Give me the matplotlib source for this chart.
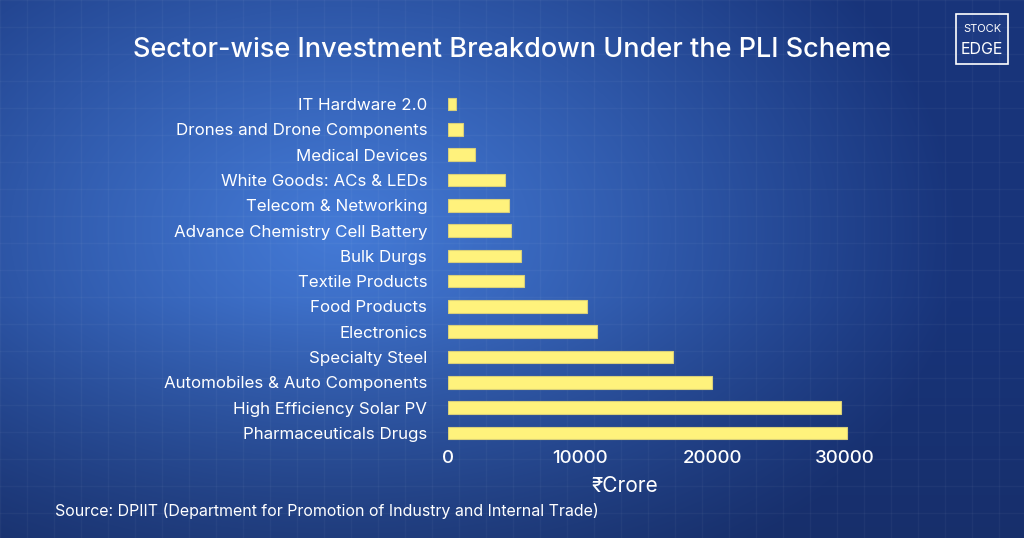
import numpy as np
import matplotlib
matplotlib.use("Agg")
from matplotlib import pyplot as plt
from matplotlib.patches import Rectangle

plt.rcParams['font.family'] = ['Inter', 'DejaVu Sans']

# data, bottom to top
sectors = ["Pharmaceuticals Drugs", "High Efficiency Solar PV", "Automobiles & Auto Components",
           "Specialty Steel", "Electronics", "Food Products", "Textile Products", "Bulk Durgs",
           "Advance Chemistry Cell Battery", "Telecom & Networking", "White Goods: ACs & LEDs",
           "Medical Devices", "Drones and Drone Components", "IT Hardware 2.0"]
investment = [30150, 29700, 19930, 17000, 11260, 10480, 5720, 5500,
              4740, 4610, 4290, 2020, 1160, 600]
xticks = [0, 10000, 20000, 30000]

W, H = 1024, 538
fig = plt.figure(figsize=(W / 100, H / 100), dpi=100)

# background gradient
bg = fig.add_axes([0, 0, 1, 1])
yy, xx = np.mgrid[0:H, 0:W]
r = np.sqrt(((xx - 340) / 620.0) ** 2 + ((yy - 230) / 420.0) ** 2)
r = np.clip(r, 0, 1)
light = np.array([68, 122, 214]) / 255.0
dark = np.array([24, 52, 122]) / 255.0
t = r[..., None] ** 1.1
img = light * (1 - t) + dark * t
vert = np.clip((yy - 300) / 238.0, 0, 1)[..., None]
img = img * (1 - 0.35 * vert) + np.array([22, 38, 80]) / 255.0 * 0.35 * vert
bg.imshow(img, extent=(0, W, H, 0), aspect='auto')
for gx in range(0, W, 27):
    bg.axvline(gx, color='white', alpha=0.035, lw=1)
for gy in range(0, H, 27):
    bg.axhline(gy, color='white', alpha=0.035, lw=1)
bg.set_xlim(0, W)
bg.set_ylim(H, 0)
bg.axis('off')

# logo
bg.add_patch(Rectangle((956, 14), 52, 50, facecolor='#1d3a82', edgecolor='white', lw=1.2))
bg.text(982, 29, "STOCK", color='white', fontsize=8, ha='center', va='center')
bg.text(982, 49, "EDGE", color='white', fontsize=11.5, ha='center', va='center')

# bars
ax = fig.add_axes([448 / W, 1 - 445.6 / H, 410 / W, 0.6583])
ax.set_facecolor('none')
y = np.arange(len(sectors))
ax.barh(y, investment, height=0.5, color='#fff27c', edgecolor='#d9cf7a', linewidth=0.8)
ax.set_xlim(0, 31000)
ax.set_ylim(-0.5, len(sectors) - 0.5)
ax.set_yticks(y)
ax.set_yticklabels(sectors, color='white', fontsize=12.2)
ax.set_xticks(xticks)
ax.set_xticklabels([str(v) for v in xticks], color='white', fontsize=13.5, fontweight='medium')
ax.tick_params(axis='y', length=0, pad=15)
ax.tick_params(axis='x', length=0, pad=3)
for s in ax.spines.values():
    s.set_visible(False)

fig.text(512 / W, 1 - 50 / H, "Sector-wise Investment Breakdown Under the PLI Scheme",
         color='white', fontsize=19.5, ha='center', va='center', fontweight='medium')
fig.text(625 / W, 1 - 486 / H, "₹Crore", color='white', fontsize=15, ha='center', va='center')
fig.text(55 / W, 1 - 511 / H, "Source: DPIIT (Department for Promotion of Industry and Internal Trade)",
         color='white', fontsize=11.5, ha='left', va='center')

fig.savefig("out.png", dpi=100)
